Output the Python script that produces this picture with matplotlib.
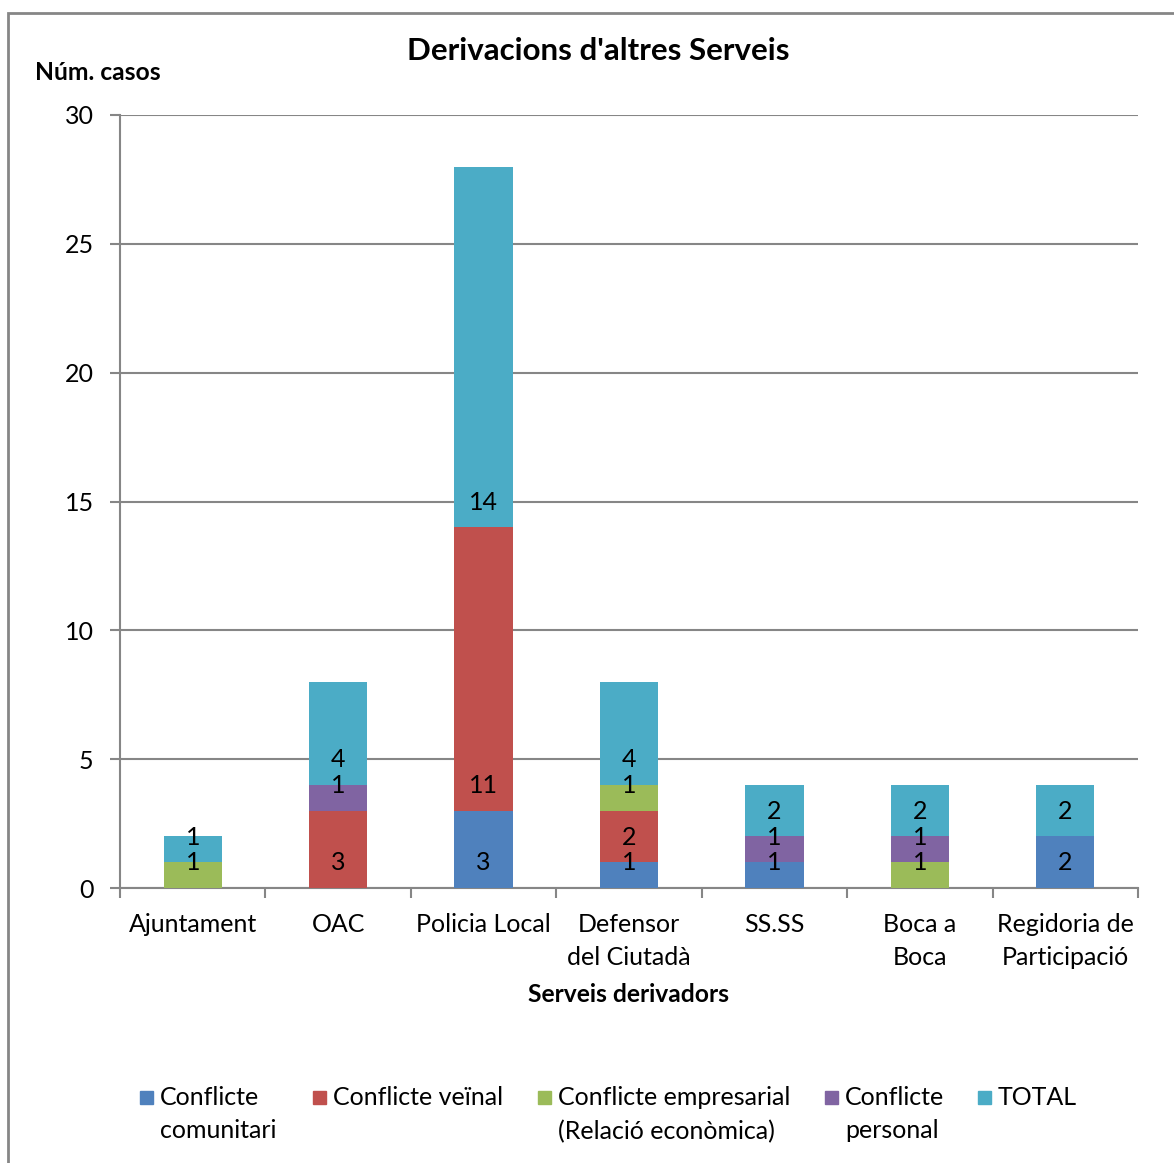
import matplotlib.pyplot as plt
import matplotlib.patches as mpatches
import numpy as np

plt.rcParams['font.family'] = ['Lato', 'DejaVu Sans']

categories = ['Ajuntament', 'OAC', 'Policia Local', 'Defensor\ndel Ciutadà',
              'SS.SS', 'Boca a\nBoca', 'Regidoria de\nParticipació']
series_names = ['Conflicte\ncomunitari', 'Conflicte veïnal',
                'Conflicte empresarial\n(Relació econòmica)',
                'Conflicte\npersonal', 'TOTAL']
comunitari = [0, 0, 3, 1, 1, 0, 2]
veinal = [0, 3, 11, 2, 0, 0, 0]
empresarial = [1, 0, 0, 1, 0, 1, 0]
personal = [0, 1, 0, 0, 1, 1, 0]
total = [1, 4, 14, 4, 2, 2, 2]
colors = ['#4F81BD', '#C0504D', '#9BBB59', '#8064A2', '#4BACC6']

grey = '#868686'
fs = 18

fig = plt.figure(figsize=(11.74, 11.63), dpi=100)
ax = fig.add_axes([120 / 1174, 1 - 888 / 1163, 1018 / 1174, 773 / 1163])

x = np.arange(len(categories))
bottom = np.zeros(len(categories))
for vals, col in zip([comunitari, veinal, empresarial, personal, total], colors):
    vals = np.array(vals, dtype=float)
    ax.bar(x, vals, 0.4, bottom=bottom, color=col, zorder=3)
    # labels sit just above the base of each segment
    for xi, b, v in zip(x, bottom, vals):
        if v > 0:
            ax.annotate(f'{int(v)}', (xi, b), xytext=(0, 18),
                        textcoords='offset points', ha='center', va='center',
                        fontsize=fs, zorder=4)
    bottom += vals

ax.set_xlim(-0.5, len(categories) - 0.5)
ax.set_ylim(0, 30)
ax.set_yticks(range(0, 31, 5))
ax.yaxis.grid(True, color=grey, linewidth=1.5, zorder=0)
ax.set_axisbelow(True)

ax.set_xticks(np.arange(-0.5, len(categories), 1))
ax.set_xticklabels([])
ax.set_xticks(x, minor=True)
ax.set_xticklabels(categories, minor=True, fontsize=fs, linespacing=1.55, va='top')
ax.tick_params(axis='x', which='major', direction='out', length=7,
               color=grey, width=1.5)
ax.tick_params(axis='x', which='minor', length=0, pad=18)
ax.tick_params(axis='y', direction='out', length=7, color=grey, width=1.5,
               labelsize=fs, pad=12)

for side in ['top', 'right']:
    ax.spines[side].set_visible(False)
for side in ['left', 'bottom']:
    ax.spines[side].set_color(grey)
    ax.spines[side].set_linewidth(1.5)

fig.text(598 / 1174, 1 - 51 / 1163, "Derivacions d'altres Serveis",
         ha='center', va='center', fontsize=22.5, fontweight='bold')
fig.text(35 / 1174, 1 - 72 / 1163, 'Núm. casos', ha='left', va='center',
         fontsize=17.7, fontweight='bold')
fig.text(629 / 1174, 1 - 995 / 1163, 'Serveis derivadors', ha='center',
         va='center', fontsize=17.7, fontweight='bold')

# legend drawn entry by entry so the square lines up with the first line
square_x = [140, 313, 538, 825, 978]
for sx, name, col in zip(square_x, series_names, colors):
    fig.patches.append(mpatches.Rectangle(
        (sx / 1174, 1 - 1104 / 1163), 13 / 1174, 13 / 1163,
        transform=fig.transFigure, color=col))
    fig.text((sx + 20) / 1174, 1 - 1086 / 1163, name, ha='left', va='top',
             fontsize=fs, linespacing=1.55)

# outer chart frame
fig.patches.append(mpatches.Rectangle(
    (8 / 1174, -0.05), 1.2, 1 - 13 / 1163 + 0.05, transform=fig.transFigure,
    fill=False, edgecolor=grey, linewidth=2))

fig.savefig('out.png', dpi=100)
